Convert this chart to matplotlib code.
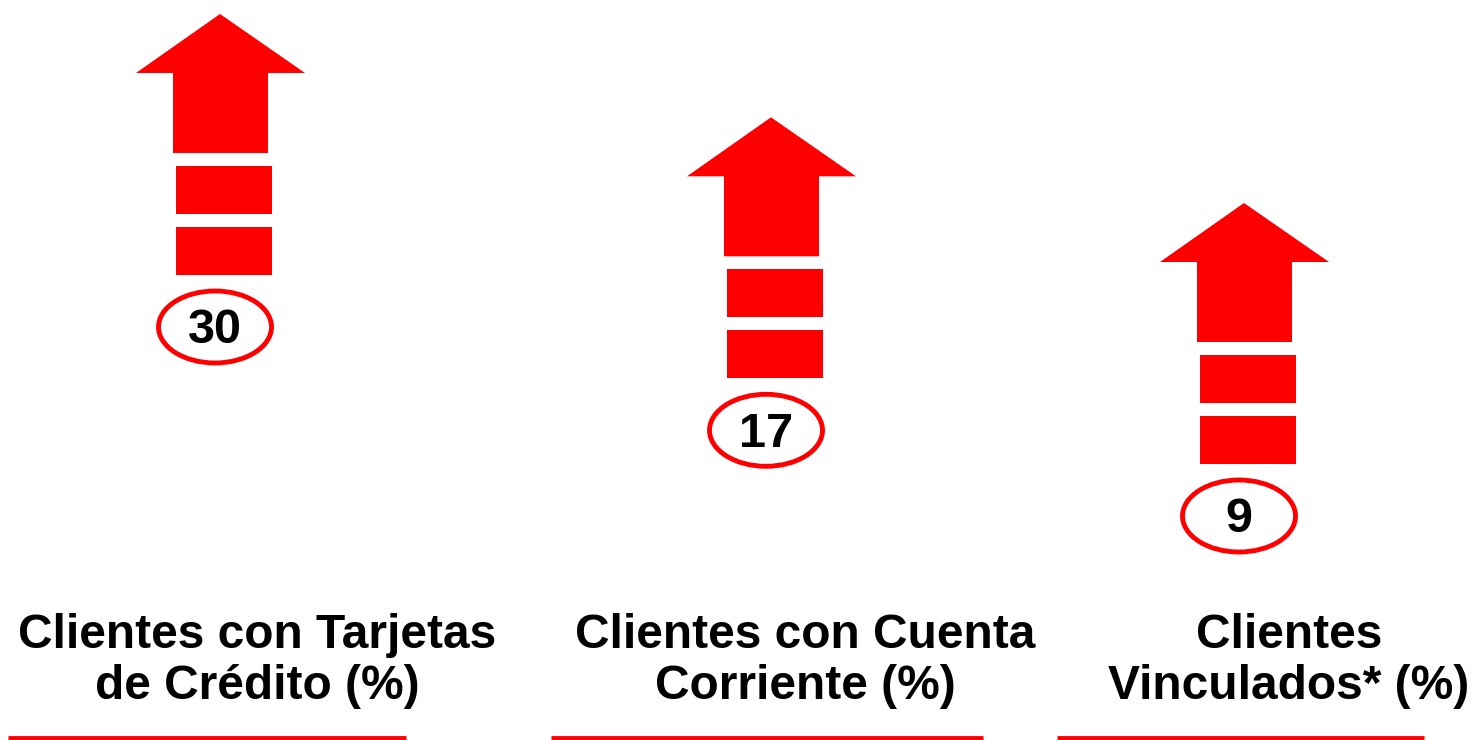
import numpy as np
import matplotlib.pyplot as plt
from matplotlib.patches import Polygon, Rectangle, Ellipse

labels = ["Clientes con Tarjetas\nde Crédito (%)",
          "Clientes con Cuenta\nCorriente (%)",
          "Clientes\nVinculados* (%)"]
values = [30, 17, 9]

# layout (pixel coords, y down)
arrow_x = [220, 771, 1244]
label_x = [257, 805, 1289]
line_span = [(8, 406), (551, 983), (1057, 1424)]

RED = "#ff0000"

fig = plt.figure(figsize=(14.74, 7.40), dpi=100)
ax = fig.add_axes([0, 0, 1, 1])
ax.set_xlim(0, 1474)
ax.set_ylim(740, 0)
ax.axis("off")

# arrow top follows sqrt of value
def top_of(v):
    return 203 - (np.sqrt(v) - 3) * 76.3

for v, x in zip(values, arrow_x):
    ty = top_of(v)
    head = [(x, ty), (x + 85, ty + 59), (x + 48, ty + 59), (x + 48, ty + 139),
            (x - 47, ty + 139), (x - 47, ty + 59), (x - 84, ty + 59)]
    ax.add_patch(Polygon(head, closed=True, fc=RED, ec="none"))
    ax.add_patch(Rectangle((x - 44, ty + 152), 96, 48, fc=RED, ec="none"))
    ax.add_patch(Rectangle((x - 44, ty + 213), 96, 48, fc=RED, ec="none"))
    ax.add_patch(Ellipse((x - 5, ty + 313), 113, 72, fc="white", ec=RED, lw=3.5))
    ax.text(x - 5, ty + 317, str(v), ha="center", va="center",
            fontsize=35, fontweight="bold", family="Liberation Sans", color="black")

for lab, x in zip(labels, label_x):
    for line, base in zip(lab.split("\n"), [648, 699]):
        ax.text(x, base, line, ha="center", va="baseline", fontsize=34.5,
                fontweight="bold", family="Liberation Sans", color="black")

for x0, x1 in line_span:
    ax.plot([x0, x1], [738, 738], color=RED, lw=3.5, solid_capstyle="butt")

fig.savefig("out.png", dpi=100)
